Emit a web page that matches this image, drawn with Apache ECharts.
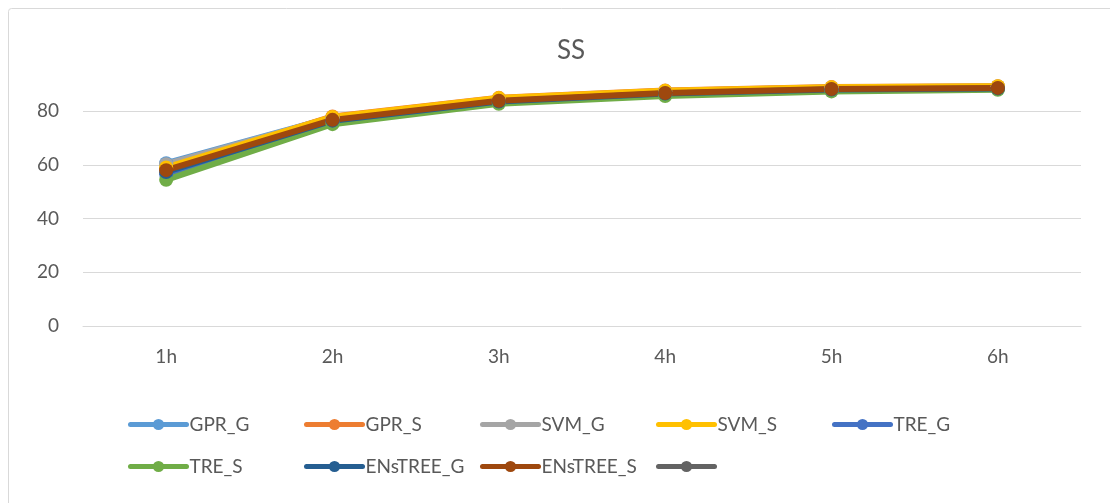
<!DOCTYPE html>
<html>
<head>
<meta charset="utf-8">
<style>
  html, body { margin: 0; padding: 0; background: #fff; overflow: hidden; }
  #chart { width: 1110px; height: 503px; }
</style>
<script src="https://cdn.jsdelivr.net/npm/echarts@6/dist/echarts.min.js"></script>
</head>
<body>
<div id="chart"></div>
<script>
// Forecast horizons
const categories = ['1h', '2h', '3h', '4h', '5h', '6h'];

// SS score per model
const gprG      = [60.6, 77.6, 84.6, 87.4, 88.7, 89.1];
const gprS      = [58.6, 78.0, 84.9, 87.6, 88.9, 89.2];
const svmG      = [60.2, 77.5, 84.5, 87.3, 88.6, 89.0];
const svmS      = [59.0, 77.8, 84.8, 87.5, 88.8, 89.2];
const treG      = [56.5, 76.0, 83.3, 86.2, 87.7, 88.2];
const treS      = [54.4, 75.1, 82.7, 85.6, 87.3, 87.9];
const ensTreeG  = [57.3, 76.4, 83.5, 86.5, 88.0, 88.4];
const ensTreeS  = [58.0, 76.7, 83.8, 86.7, 88.2, 88.6];
const unnamed   = [];

const yTicks = [0, 20, 40, 60, 80, 100];

const seriesDefs = [
  { name: 'GPR_G',      data: gprG,     color: '#5B9BD5' },
  { name: 'GPR_S',      data: gprS,     color: '#ED7D31' },
  { name: 'SVM_G',      data: svmG,     color: '#A5A5A5' },
  { name: 'SVM_S',      data: svmS,     color: '#FFC000' },
  { name: 'TRE_G',      data: treG,     color: '#4472C4' },
  { name: 'TRE_S',      data: treS,     color: '#70AD47' },
  { name: 'ENsTREE_G',  data: ensTreeG, color: '#255E91' },
  { name: 'ENsTREE_S',  data: ensTreeS, color: '#9E480E' },
  { name: ' ',          data: unnamed,  color: '#636363' }
];

const FONT = 'Lato';
const TEXT = '#595959';
const GRID_LINE = '#d9d9d9';

// Legend laid out in fixed-width columns, two rows each
const legendColumns = [
  ['GPR_G', 'TRE_S'],
  ['GPR_S', 'ENsTREE_G'],
  ['SVM_G', 'ENsTREE_S'],
  ['SVM_S', ' '],
  ['TRE_G']
];
const legends = legendColumns.map((names, i) => ({
  orient: 'vertical',
  left: 128 + i * 176,
  top: 415,
  padding: 0,
  itemWidth: 56,
  itemHeight: 14,
  itemGap: 23,
  selectedMode: false,
  data: names,
  lineStyle: { width: 5, cap: 'round' },
  textStyle: { fontFamily: FONT, fontSize: 19, color: TEXT, padding: [0, 0, 0, -2] }
}));

const chart = echarts.init(document.getElementById('chart'), null, { renderer: 'canvas' });

chart.setOption({
  animation: false,
  backgroundColor: '#fff',
  title: {
    text: 'SS',
    left: 566,
    top: 33,
    textAlign: 'center',
    textStyle: { fontFamily: FONT, fontSize: 26, fontWeight: 'normal', color: TEXT }
  },
  graphic: [{
    type: 'rect',
    shape: { x: 8.5, y: 8.5, width: 1130, height: 520, r: 3 },
    style: { fill: 'none', stroke: GRID_LINE, lineWidth: 1 },
    silent: true
  }],
  legend: legends,
  grid: { left: 83, right: 29, top: 57.25, bottom: 177, containLabel: false },
  xAxis: {
    type: 'category',
    data: categories,
    boundaryGap: true,
    axisLine: { show: true, lineStyle: { color: GRID_LINE, width: 1 } },
    axisTick: { show: false },
    axisLabel: { fontFamily: FONT, fontSize: 19, color: TEXT, margin: 21 }
  },
  yAxis: {
    type: 'value',
    min: yTicks[0],
    max: yTicks[yTicks.length - 1],
    interval: 20,
    axisLine: { show: false },
    axisTick: { show: false },
    axisLabel: {
      fontFamily: FONT, fontSize: 19, color: TEXT, margin: 24,
      formatter: v => (v === 100 ? '' : String(v))
    },
    splitLine: {
      show: true,
      lineStyle: {
        color: [GRID_LINE, GRID_LINE, GRID_LINE, GRID_LINE, GRID_LINE, 'rgba(0,0,0,0)'],
        width: 1
      }
    }
  },
  series: seriesDefs.map(s => ({
    name: s.name,
    type: 'line',
    data: s.data,
    symbol: 'circle',
    symbolSize: 14,
    showSymbol: true,
    lineStyle: { width: 6, color: s.color, cap: 'round', join: 'round' },
    itemStyle: { color: s.color, borderWidth: 0 },
    emphasis: { disabled: true }
  }))
});
</script>
</body>
</html>
